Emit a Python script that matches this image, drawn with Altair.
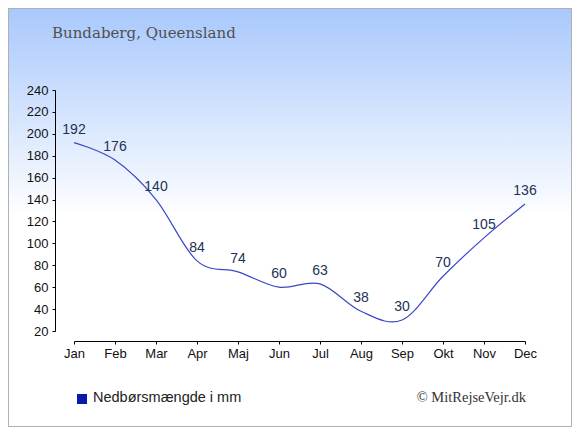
import altair as alt
import pandas as pd

months = ["Jan", "Feb", "Mar", "Apr", "Maj", "Jun", "Jul", "Aug", "Sep", "Okt", "Nov", "Dec"]
values = [192, 176, 140, 84, 74, 60, 63, 38, 30, 70, 105, 136]
y_ticks = list(range(20, 241, 20))
title_text = "Bundaberg, Queensland"
legend_text = "Nedbørsmængde i mm"
credit_text = "© MitRejseVejr.dk"

df = pd.DataFrame({"month": months, "value": values})

W, H = 451, 241
PAD_L, PAD_T = 66, 82
TOTAL_W, TOTAL_H = 564, 419

x_enc = alt.X(
    "month:N",
    sort=months,
    scale=alt.Scale(type="point", padding=0),
    axis=alt.Axis(
        title=None, labelAngle=0, offset=10, tickSize=3, labelPadding=3,
        labelFont="Liberation Sans", labelFontSize=13, labelColor="#111",
        domainColor="#000", tickColor="#000", grid=False, zindex=1,
        labelOverlap=False,
    ),
)
y_enc = alt.Y(
    "value:Q",
    scale=alt.Scale(domain=[20, 240], nice=False, zero=False),
    axis=alt.Axis(
        title=None, values=y_ticks, offset=19, tickSize=3, labelPadding=4,
        labelFont="Liberation Sans", labelFontSize=13, labelColor="#111",
        domainColor="#000", tickColor="#000", grid=False, zindex=1,
        labelOverlap=False, labelBound=False, labelFlush=False,
    ),
)

one = pd.DataFrame({"a": [0]})

bg = alt.Chart(one).mark_rect(
    fill=alt.Gradient(
        gradient="linear", x1=0, y1=0, x2=0, y2=1,
        stops=[
            alt.GradientStop(offset=0, color="#a8c8fc"),
            alt.GradientStop(offset=0.5, color="#ffffff"),
            alt.GradientStop(offset=1, color="#ffffff"),
        ],
    ),
    stroke="#b0b0b0", strokeWidth=2,
).encode(
    x=alt.value(-PAD_L), x2=alt.value(TOTAL_W - PAD_L),
    y=alt.value(-PAD_T), y2=alt.value(TOTAL_H - PAD_T),
)

line = alt.Chart(df).mark_line(
    interpolate="cardinal", color="#3a48c8", strokeWidth=1.2
).encode(x=x_enc, y=y_enc)

labels = alt.Chart(df).mark_text(
    dy=-13, fontSize=14, font="Liberation Sans", color="#223355"
).encode(x=x_enc, y=y_enc, text="value:Q")

title = alt.Chart(pd.DataFrame({"t": [title_text]})).mark_text(
    align="left", baseline="alphabetic", font="DejaVu Serif", fontSize=15, color="#505050"
).encode(x=alt.value(-22), y=alt.value(-52), text="t:N")

legend_sq = alt.Chart(pd.DataFrame({"s": [legend_text]})).mark_square(
    size=100, filled=True, color="#0a1aa8", opacity=1
).encode(x=alt.value(8), y=alt.value(309))

legend_txt = alt.Chart(pd.DataFrame({"s": [legend_text]})).mark_text(
    align="left", baseline="middle", font="Liberation Sans", fontSize=14.5, color="#222"
).encode(x=alt.value(19), y=alt.value(308), text="s:N")

credit = alt.Chart(pd.DataFrame({"c": [credit_text]})).mark_text(
    align="right", baseline="middle", font="Liberation Serif", fontSize=14.5, color="#333"
).encode(x=alt.value(452), y=alt.value(308), text="c:N")

chart = alt.layer(bg, line, labels, title, legend_sq, legend_txt, credit).properties(
    width=W, height=H,
    autosize=alt.AutoSizeParams(type="none"),
    padding={"left": PAD_L, "top": PAD_T, "right": TOTAL_W - PAD_L - W, "bottom": TOTAL_H - PAD_T - H},
).configure_view(stroke=None).configure_axis(labelOverlap=False)

chart.save("out.html", embed_options={"renderer": "svg", "actions": False})
